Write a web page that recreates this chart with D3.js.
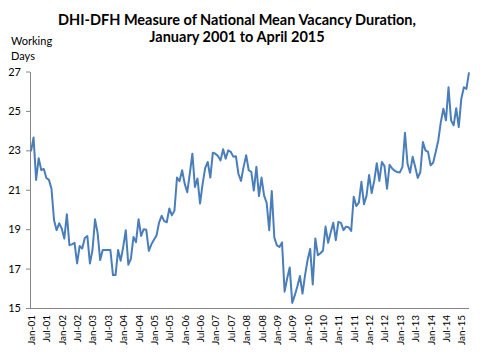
<!DOCTYPE html>
<html>
<head>
<meta charset="utf-8">
<script src="https://cdn.jsdelivr.net/npm/d3@7"></script>
<style>
  body { margin: 0; background: #fff; }
  svg { font-family: Lato, "Open Sans", sans-serif; }
</style>
</head>
<body>
<script>
// DATA

let titleLines = ["DHI-DFH Measure of National Mean Vacancy Duration,", "January 2001 to April 2015"];
let yLabel = ["Working", "Days"];

let monthNames = ["Jan", "Feb", "Mar", "Apr", "May", "Jun", "Jul", "Aug", "Sep", "Oct", "Nov", "Dec"];
let years = ["01", "02", "03", "04", "05", "06", "07", "08", "09", "10", "11", "12", "13", "14", "15"];

// mean vacancy duration, working days, Jan 2001 .. Apr 2015
let duration = [
    22.95, 23.65, 21.5, 22.6, 22.0, 22.05, 21.6, 21.5, 21.05, 19.45, 18.95, 19.3,    // 2001
    19.03, 18.52, 19.76, 18.19, 18.23, 18.31, 17.26, 18.15, 18.02, 18.55, 18.65, 17.26, // 2002
    17.94, 19.5, 18.81, 17.43, 17.94, 17.94, 17.94, 17.94, 16.67, 16.67, 17.94, 17.4, // 2003
    18.1, 18.95, 17.2, 17.5, 18.6, 18.34, 19.5, 18.66, 19.0, 18.97, 17.9, 18.23,   // 2004
    18.46, 18.68, 19.33, 19.68, 19.41, 19.35, 20.05, 19.7, 19.94, 21.62, 21.44, 21.99, // 2005
    21.31, 20.87, 21.82, 22.83, 21.14, 21.57, 20.3, 21.3, 22.1, 22.41, 21.62, 22.88, // 2006
    22.83, 22.71, 22.49, 23.05, 22.58, 23.0, 22.92, 22.68, 22.7, 21.8, 21.45, 22.16, // 2007
    22.75, 21.99, 21.91, 20.96, 22.17, 20.68, 21.62, 20.7, 20.34, 18.95, 20.94, 18.57, // 2008
    18.18, 18.1, 18.33, 15.83, 16.5, 17.06, 15.26, 15.65, 16.1, 16.62, 15.73, 16.67, // 2009
    17.45, 18.0, 16.19, 18.53, 17.68, 17.78, 17.92, 19.13, 18.31, 18.83, 19.33, 18.44, // 2010
    19.37, 19.32, 18.95, 19.13, 19.1, 18.91, 20.64, 20.17, 20.35, 21.4, 20.27, 20.7, // 2011
    21.75, 20.83, 21.45, 22.35, 21.45, 22.41, 22.2, 21.05, 22.27, 22.08, 21.96, 21.9, // 2012
    21.88, 22.15, 23.89, 22.32, 21.87, 22.67, 22.15, 21.6, 21.9, 23.42, 23.0, 22.92, // 2013
    22.24, 22.37, 22.92, 23.5, 24.43, 25.11, 24.52, 26.2, 24.52, 24.27, 25.14, 24.18, // 2014
    25.62, 26.2, 26.12, 26.96                                                       // 2015
];

let yTicks = [15, 17, 19, 21, 23, 25, 27];
let xTickLabels = ["Jan-01", "Jul-01", "Jan-02", "Jul-02", "Jan-03", "Jul-03", "Jan-04", "Jul-04",
    "Jan-05", "Jul-05", "Jan-06", "Jul-06", "Jan-07", "Jul-07", "Jan-08", "Jul-08", "Jan-09", "Jul-09",
    "Jan-10", "Jul-10", "Jan-11", "Jul-11", "Jan-12", "Jul-12", "Jan-13", "Jul-13", "Jan-14", "Jul-14", "Jan-15"];

// month categories "Jan-01" ... "Apr-15", one per value
let categories = [];
years.forEach(y => monthNames.forEach(m => categories.push(m + "-" + y)));
categories = categories.slice(0, duration.length);

let data = duration.map((v, i) => ({ month: categories[i], value: v }));

// CHART

let width = 480;
let height = 352;
let plotLeft = 30, plotRight = 469, plotTop = 71.5, plotBottom = 308;
let axisColor = "#868686";

let svg = d3.select("body").append("svg")
    .attr("width", width)
    .attr("height", height);

svg.selectAll(".title")
    .data(titleLines)
    .join("text")
    .attr("class", "title")
    .attr("x", 237)
    .attr("y", (d, i) => 25 + i * 17)
    .attr("text-anchor", "middle")
    .style("font-size", "14.5px")
    .style("font-weight", "bold")
    .style("fill", "#000")
    .text(d => d);

svg.selectAll(".ylabel")
    .data(yLabel)
    .join("text")
    .attr("class", "ylabel")
    .attr("x", 11)
    .attr("y", (d, i) => 45 + i * 15)
    .style("font-size", "11px")
    .style("fill", "#000")
    .text(d => d);

let x_scale = d3.scalePoint()
    .domain(categories)
    .range([plotLeft + 1, plotRight]);

let y_scale = d3.scaleLinear()
    .domain([15, 27])
    .range([plotBottom, plotTop]);

let y_axis = d3.axisLeft(y_scale)
    .tickValues(yTicks)
    .tickSize(4)
    .tickSizeOuter(0)
    .tickPadding(5);

let gy = svg.append("g")
    .attr("class", "y axis")
    .attr("transform", "translate(" + plotLeft + ",0)")
    .call(y_axis);

let x_axis = d3.axisBottom(x_scale)
    .tickValues(xTickLabels)
    .tickSize(0)
    .tickSizeOuter(0);

let gx = svg.append("g")
    .attr("class", "x axis")
    .attr("transform", "translate(0," + plotBottom + ")")
    .call(x_axis);

gx.select(".domain").attr("d", "M" + plotLeft + ",0.5H" + plotRight);

gx.selectAll("text")
    .attr("transform", "rotate(-90)")
    .attr("x", -7)
    .attr("y", 0)
    .attr("dy", "0.35em")
    .attr("text-anchor", "end");

svg.selectAll(".axis .domain, .axis line").attr("stroke", axisColor);
svg.selectAll(".axis text")
    .attr("fill", "#000")
    .style("font-family", "Lato, 'Open Sans', sans-serif");
gy.selectAll("text").style("font-size", "11px");
gx.selectAll("text").style("font-size", "10px");

let line = d3.line()
    .x(d => x_scale(d.month))
    .y(d => y_scale(d.value));

svg.append("path")
    .attr("d", line(data))
    .attr("fill", "none")
    .attr("stroke", "#4a7ebb")
    .attr("stroke-width", 2)
    .attr("stroke-linejoin", "round");
</script>
</body>
</html>
